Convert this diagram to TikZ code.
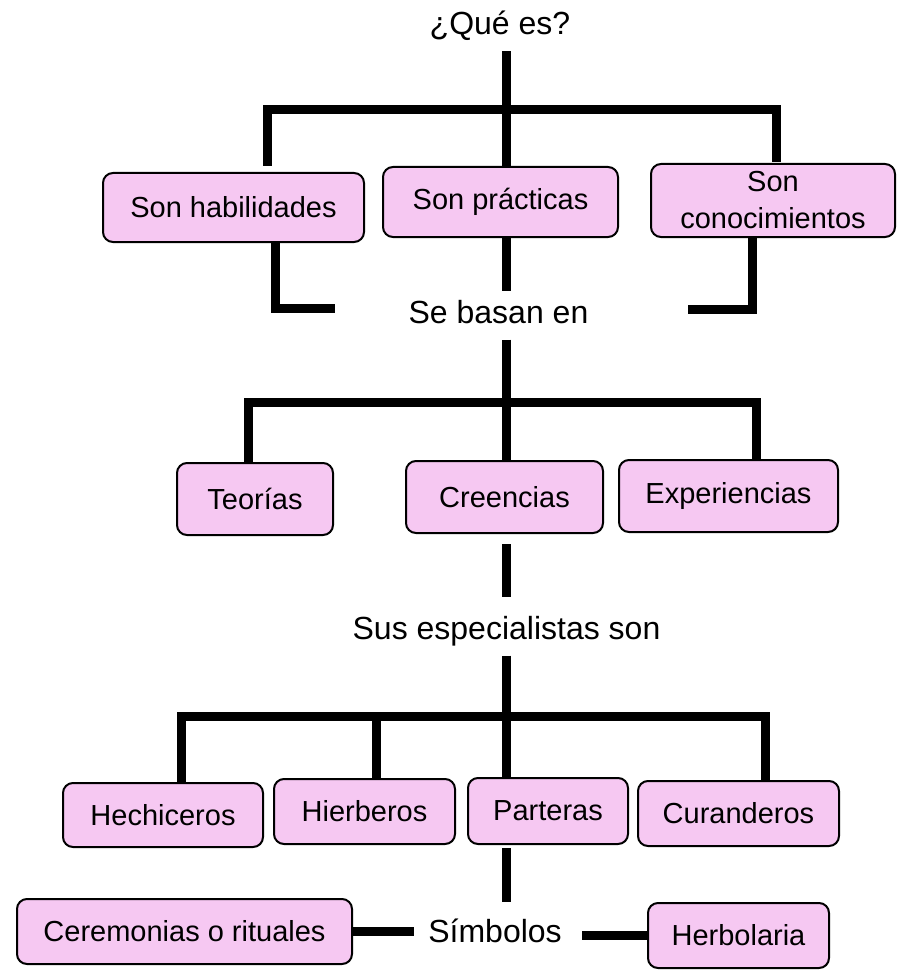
\documentclass[tikz,border=0pt]{standalone}
\usepackage{fontspec}
\setmainfont{Liberation Sans}
\usetikzlibrary{positioning}
\definecolor{conceptpink}{RGB}{246,200,242}

\begin{document}
\begin{tikzpicture}[x=0.5pt,y=-0.5pt,
		line width=4.5pt, line join=miter,
		font=\fontsize{14.5}{18.5}\selectfont,
		concept/.style={draw, line width=1pt, rounded corners=5pt, fill=conceptpink,
			align=center, inner sep=2pt},
		linker/.style={anchor=base, inner sep=2pt, text height=12pt, text depth=4pt,
			font=\fontsize{16}{19}\selectfont}]
		\useasboundingbox (0,0) rectangle (897,973);
		\node[linker] (qes) at (500,35) {¿Qué es?};
		\node[concept, minimum width=130.5pt, minimum height=34.5pt] (hab) at (233.5,207.5) {Son habilidades};
		\node[concept, minimum width=117.5pt, minimum height=35pt] (pra) at (500.5,202) {Son prácticas};
		\node[concept, minimum width=122pt, minimum height=36.5pt] (con) at (773,200.5) {Son\\conocimientos};
		\node[linker] (bas) at (498.5,323) {Se basan en};
		\node[concept, minimum width=78pt, minimum height=36pt] (teo) at (255,499) {Teorías};
		\node[concept, minimum width=98.5pt, minimum height=36pt] (cre) at (504.5,497) {Creencias};
		\node[concept, minimum width=109.5pt, minimum height=36pt] (exp) at (728.5,496) {Experiencias};
		\node[linker] (esp) at (506.5,639) {Sus especialistas son};
		\node[concept, minimum width=100pt, minimum height=32pt] (hec) at (163,815) {Hechiceros};
		\node[concept, minimum width=90.5pt, minimum height=32.5pt] (hie) at (364.5,811.5) {Hierberos};
		\node[concept, minimum width=80pt, minimum height=33pt] (par) at (548,811) {Parteras};
		\node[concept, minimum width=100.5pt, minimum height=32.5pt] (cur) at (738.5,813.5) {Curanderos};
		\node[linker] (sim) at (495,942) {Símbolos};
		\node[concept, minimum width=167.5pt, minimum height=32.5pt] (cer) at (184.5,931.5) {Ceremonias o rituales};
		\node[concept, minimum width=90.5pt, minimum height=32.5pt] (her) at (738.5,935.5) {Herbolaria};
		\coordinate (j1) at (506,110);
		\coordinate (l1) at (267,110);
		\coordinate (r1) at (776,110);
		\coordinate (k1) at (275,308);
		\coordinate (k1e) at (335,308);
		\coordinate (k2) at (752,309);
		\coordinate (k2e) at (688,309);
		\coordinate (j2) at (506,402);
		\coordinate (l2) at (248,402);
		\coordinate (r2) at (756,402);
		\coordinate (j3) at (506,716);
		\coordinate (l3) at (181,716);
		\coordinate (m3) at (376,716);
		\coordinate (r3) at (765,716);
		\draw (qes.south -| j1) -- (j1 |- pra.north);
		\draw[shorten <=3pt, shorten >=0.5pt] (hab.north -| l1) -- (l1) -- (r1) -- (con.north -| r1);
		\draw (pra.south -| j1) -- (bas.north -| j1);
		\draw (hab.south -| k1) -- (k1) -- (k1e);
		\draw (con.south -| k2) -- (k2) -- (k2e);
		\draw (bas.south -| j2) -- (j2 |- cre.north);
		\draw (teo.north -| l2) -- (l2) -- (r2) -- (exp.north -| r2);
		\draw[shorten <=5pt, shorten >=5pt] (cre.south -| j2) -- (esp.north -| j2);
		\draw (esp.south -| j3) -- (j3 |- par.north);
		\draw (hec.north -| l3) -- (l3) -- (r3) -- (cur.north -| r3);
		\draw (hie.north -| m3) -- (m3);
		\draw[shorten <=1.5pt, shorten >=4pt] (par.south -| j3) -- (sim.north -| j3);
		\draw[shorten >=3pt] (cer.east) -- (cer.east -| sim.west);
		\draw[shorten <=6pt] (sim.east |- her.west) -- (her.west);
\end{tikzpicture}
\end{document}
